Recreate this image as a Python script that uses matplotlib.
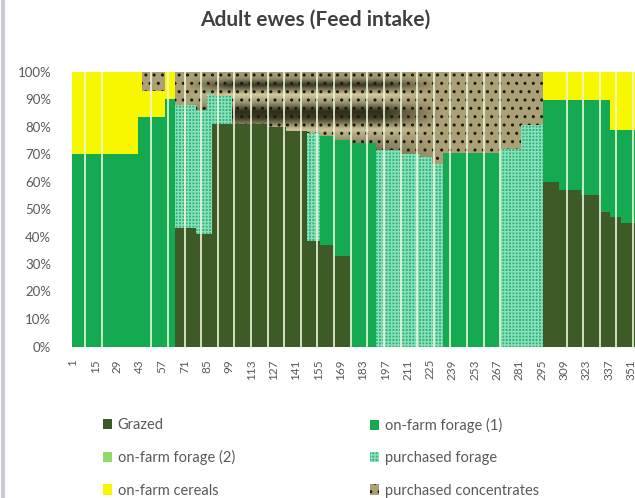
import matplotlib
matplotlib.use("Agg")
import matplotlib.pyplot as plt
import numpy as np
from matplotlib.lines import Line2D
from matplotlib.path import Path
from matplotlib.patches import PathPatch, Patch

matplotlib.rcParams['font.family'] = ['Lato', 'DejaVu Sans']
matplotlib.rcParams['hatch.linewidth'] = 1.0

# feeding periods (day of year where each period starts), shares in % of intake
period_start = [0.5, 42, 44.5, 59, 65, 78, 85, 88, 101, 123, 135, 148, 156, 165,
                175, 191, 206, 219, 226, 233, 269, 282, 296, 306, 320, 332, 338, 345]
period_end = period_start[1:] + [365.5]

grazed = [0, 0, 0, 0, 43, 41, 41, 81, 81, 80, 78.5, 38.5, 37, 33,
          0, 0, 0, 0, 0, 0, 0, 0, 60, 57, 55, 49, 47, 45]
onfarm_forage1 = [70, 83.5, 83.5, 90, 0, 0, 0, 0, 0, 0, 0, 0, 39.5, 42,
                  74, 0, 0, 0, 0, 70.5, 0, 0, 29.6, 32.6, 34.6, 40.6, 31.7, 33.7]
onfarm_forage2 = [0] * 28
purchased_forage = [0, 0, 0, 0, 45, 45, 51, 10, 0, 0, 0, 39, 0, 0,
                    0, 71.5, 70, 69, 66.5, 0, 72, 80.5, 0, 0, 0, 0, 0, 0]
onfarm_cereals = [30, 16.5, 9.5, 10, 0, 0, 0, 0, 0, 0, 0, 0, 0, 0,
                  0, 0, 0, 0, 0, 0, 0, 0, 10.4, 10.4, 10.4, 10.4, 21.3, 21.3]
purchased_conc = [0, 0, 7, 0, 12, 14, 8, 9, 19, 20, 21.5, 22.5, 23.5, 25,
                  26, 28.5, 30, 31, 33.5, 29.5, 28, 19.5, 0, 0, 0, 0, 0, 0]

day_ticks = list(range(1, 352, 14))
pct_ticks = list(range(0, 101, 10))

conc_face = "#aca176"
dot_color = "#1a1a10"
series = [
    ("Grazed", grazed, dict(color="#3e5a26")),
    ("on-farm forage (1)", onfarm_forage1, dict(color="#14aa52")),
    ("on-farm forage (2)", onfarm_forage2, dict(color="#8fd86a")),
    ("purchased forage", purchased_forage,
     dict(facecolor="#36b276", edgecolor="#86e0bc", hatch="+++++")),
    ("on-farm cereals", onfarm_cereals, dict(color="#f7f700")),
    ("purchased concentrates", purchased_conc, dict(color=conc_face)),
]

fig = plt.figure(figsize=(6.35, 4.98), dpi=100)
ax = fig.add_axes([72 / 635, 1 - 346.5 / 498, 582 / 635, 275 / 498])

left = np.array(period_start)
width = np.array(period_end) - left
bottom = np.zeros(len(left))
handles = {}
for name, vals, style in series:
    vals = np.array(vals, dtype=float)
    bars = ax.bar(left, vals, width=width, bottom=bottom, align="edge",
                  linewidth=0, antialiased=False, label=name, **style)
    handles[name] = bars
    if name == "purchased concentrates":
        conc_bars, conc_bottom, conc_vals = bars, bottom.copy(), vals
    bottom += vals

# shaded bands across the concentrate block, clipped to its bars
paths = [b.get_path().transformed(b.get_patch_transform())
         for b in conc_bars if b.get_height() > 0]
clip = PathPatch(Path.make_compound_path(*paths), transform=ax.transData,
                 facecolor="none", edgecolor="none")
ax.add_patch(clip)
yy = np.linspace(65, 100, 240)
xx = np.linspace(72, 232, 320)
shade = np.interp(yy, [65, 70, 75, 79, 83, 85.5, 88.5, 91.5, 95, 97.5, 100],
                  [0.5, 0.35, 0.6, 0.9, 0.1, 0.0, 0.6, 0.95, 0.05, 0.6, 0.7])
fade = np.interp(xx, [72, 100, 195, 232], [0, 0.95, 0.95, 0])
dark = np.array([0.16, 0.15, 0.08])
light = np.array([0.88, 0.84, 0.66])
rgba = np.zeros((len(yy), len(xx), 4))
rgba[..., :3] = dark + (light - dark) * shade[:, None, None]
rgba[..., 3] = fade[None, :]
im = ax.imshow(rgba, extent=(72, 232, 65, 100), origin="lower", aspect="auto",
               interpolation="bilinear", zorder=1.5)
im.set_clip_path(clip)

# dotted pattern on top of the concentrates
ax.bar(left, conc_vals, width=width, bottom=conc_bottom, align="edge",
       facecolor="none", edgecolor=dot_color, hatch="..", linewidth=0, zorder=2)

# light separators between groups of days
sep = 8.66 + 10.414 * np.arange(35)
skip = {2, 3, 26, 27, 28}
sep = [s for i, s in enumerate(sep) if i not in skip]
ax.vlines(sep, 0, 100, color="#eef6dc", lw=1.2, zorder=3)

ax.set_xlim(0.5, 365.5)
ax.set_ylim(0, 100)
ax.set_xticks(day_ticks)
ax.set_xticklabels([str(d) for d in day_ticks], rotation=90, fontsize=8.5,
                   color="#595959")
ax.set_yticks(pct_ticks)
ax.set_yticklabels([f"{p}%" for p in pct_ticks], fontsize=9.5, color="#595959")
ax.tick_params(axis="both", length=0)
ax.tick_params(axis="y", pad=15)
ax.tick_params(axis="x", pad=9)
for s in ax.spines.values():
    s.set_visible(False)

fig.text(0.496, 1 - 20 / 498, "Adult ewes (Feed intake)", ha="center",
         va="center", fontsize=15, fontweight="bold", color="#404040")

legend_handles = {n: handles[n] for n in handles}
legend_handles["purchased concentrates"] = Patch(
    facecolor=conc_face, edgecolor=dot_color, hatch="..", linewidth=0)
names = [s[0] for s in series]
col1 = [names[0], names[2], names[4]]
col2 = [names[1], names[3], names[5]]
for col, x0 in ((col1, 103 / 635), (col2, 370 / 635)):
    leg = fig.legend([legend_handles[n] for n in col], col, loc="upper left",
                     bbox_to_anchor=(x0, 1 - 418 / 498), frameon=False,
                     fontsize=10.5, handlelength=0.6, handleheight=0.7,
                     handletextpad=0.4, labelspacing=1.25, borderpad=0,
                     borderaxespad=0)
    for t in leg.get_texts():
        t.set_color("#595959")

fig.add_artist(Line2D([0.004, 0.004], [0, 1], color="#c9ccd2", lw=3))

fig.savefig("out.png", dpi=100)
